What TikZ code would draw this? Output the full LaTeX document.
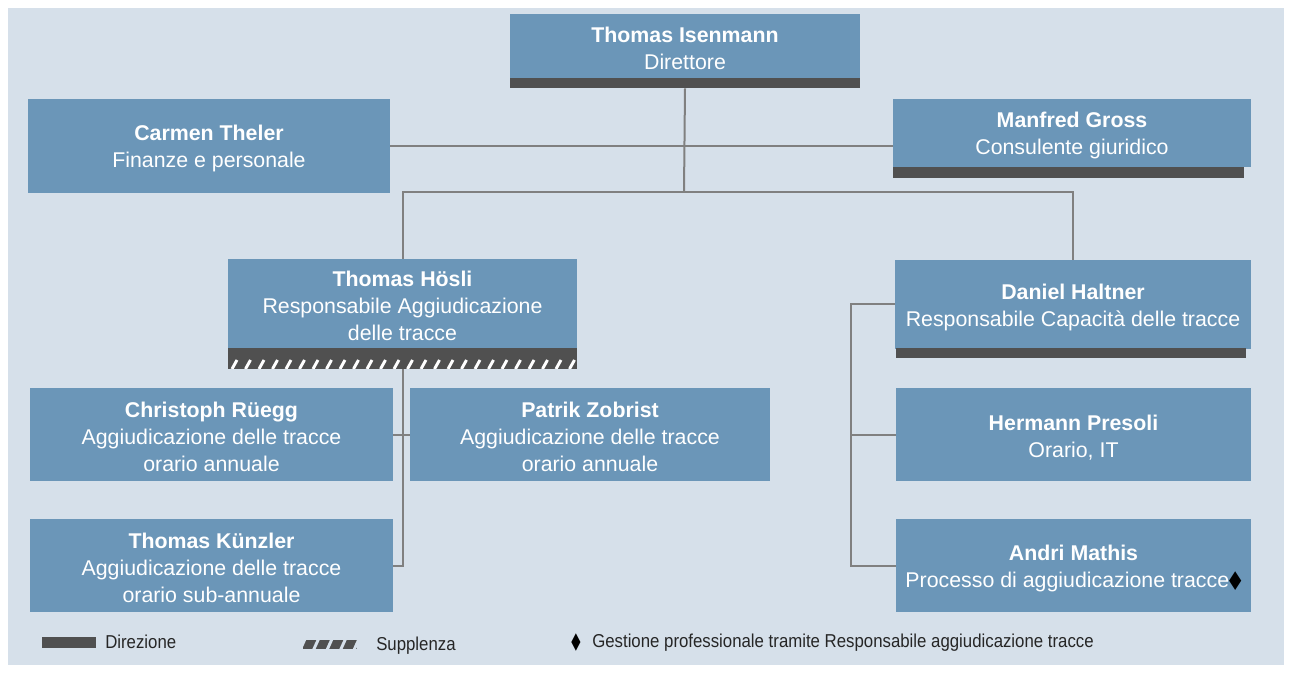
\documentclass[tikz,border=0pt]{standalone}
\usepackage{fontspec}
\setmainfont{Liberation Sans}
\newfontfamily\legfont[FakeStretch=0.9]{Liberation Sans}
\newfontfamily\symfont{DejaVu Sans}
\usetikzlibrary{fit}
\definecolor{bgpanel}{HTML}{D6E0EA}
\definecolor{boxblue}{HTML}{6B96B8}
\definecolor{bardark}{HTML}{505050}
\definecolor{linegray}{HTML}{808080}
\definecolor{legtext}{HTML}{262626}
\tikzset{
  box/.style={fill=boxblue, inner sep=0pt},
  boxtext/.style={text=white, inner sep=0pt, align=center, yshift=-2pt,
    font=\fontsize{16}{20.25}\selectfont},
  bar/.style={fill=bardark, inner sep=0pt},
  conn/.style={draw=linegray, line width=1.5pt},
  slash/.style={draw=white, line width=2.2pt},
  legend/.style={font=\legfont\fontsize{14}{16}\selectfont, text=legtext, anchor=west, inner sep=0pt},
}
\begin{document}
\begin{tikzpicture}[x=0.75pt,y=-0.75pt]
\useasboundingbox (0,0) rectangle (1292,673);
\fill[white] (0,0) rectangle (1292,673);
\fill[bgpanel] (8,8) rectangle (1284,665);

% boxes
\node[box, fit={(510,14)(860,78)}] (isen) {};
\node[boxtext] (isent) at (isen.center) {\textbf{Thomas Isenmann}\\Direttore};
\node[bar, fit={(510,78)(860,88)}] (isenbar) {};

\node[box, fit={(28,99)(390,193)}] (carmen) {};
\node[boxtext] (carment) at (carmen.center) {\textbf{Carmen Theler}\\Finanze e personale};

\node[box, fit={(893,99)(1251,167)}] (manfred) {};
\node[boxtext] (manfredt) at (manfred.center) {\textbf{Manfred Gross}\\Consulente giuridico};
\node[bar, fit={(893,167)(1244,178)}] (manfredbar) {};

\node[box, fit={(228,259)(577,348)}] (hosli) {};
\node[boxtext] (hoslit) at (hosli.center) {\textbf{Thomas Hösli}\\Responsabile Aggiudicazione\\delle tracce};
\node[bar, fit={(228,348)(577,369)}] (hoslibar) {};
\begin{scope}
  \clip (228,359) rectangle (577,369);
  \foreach \x in {232,245.5,...,577} \draw[slash] (\x,369) -- (\x+5,360);
\end{scope}

\node[box, fit={(895,260)(1251,349)}] (haltner) {};
\node[boxtext] (haltnert) at (haltner.center) {\textbf{Daniel Haltner}\\Responsabile Capacità delle tracce};
\node[bar, fit={(896,348)(1246,358)}] (haltnerbar) {};

\node[box, fit={(30,388)(393,481)}] (ruegg) {};
\node[boxtext] (rueggt) at (ruegg.center) {\textbf{Christoph Rüegg}\\Aggiudicazione delle tracce\\orario annuale};
\node[box, fit={(410,388)(770,481)}] (zobrist) {};
\node[boxtext] (zobristt) at (zobrist.center) {\textbf{Patrik Zobrist}\\Aggiudicazione delle tracce\\orario annuale};
\node[box, fit={(30,519)(393,612)}] (kunzler) {};
\node[boxtext] (kunzlert) at (kunzler.center) {\textbf{Thomas Künzler}\\Aggiudicazione delle tracce\\orario sub-annuale};

\node[box, fit={(896,388)(1251,481)}] (presoli) {};
\node[boxtext] (presolit) at (presoli.center) {\textbf{Hermann Presoli}\\Orario, IT};
\node[box, fit={(896,519)(1251,612)}] (mathis) {};
\node[boxtext] (mathist) at (mathis.center) {\textbf{Andri Mathis}\\Processo di aggiudicazione tracce{\symfont\color{black}\scalebox{0.75}[1.15]{◆}}};

% connectors
\coordinate (jt) at (684,192);
\draw[conn] (isenbar.south) -- (jt);
\draw[conn] (carmen.east) -- (manfred.west |- carmen.east);
\draw[conn] (hosli.north) |- (jt) -| (haltner.north);
\draw[conn] (hoslibar.south) |- (kunzler.east);
\draw[conn] (ruegg.east) -- (zobrist.west);
\draw[conn] (haltner.west) -- ++(-44,0) coordinate (rt) |- (mathis.west);
\draw[conn] (presoli.west) -- (presoli.west -| rt);

% legend
\node[bar, fit={(42,637)(96,648)}] (legdir) {};
\node[legend] (legdirtext) at (105,642) {Direzione};

\node[bar, fit={(303,640)(357,649)}] (legsup) {};
\begin{scope}
  \clip (303,640) rectangle (357,649);
  \foreach \x in {300,313.5,...,358} \draw[draw=bgpanel, line width=2.2pt] (\x,650) -- (\x+5,639);
\end{scope}
\node[legend] (legsuptext) at (376,646) {Supplenza};

\node[inner sep=0pt, text=black] (legdia) at (576,643) {\symfont\fontsize{15}{17}\selectfont\scalebox{0.6}[1.15]{◆}};
\node[legend] (legdiatext) at (592,643) {Gestione professionale tramite Responsabile aggiudicazione tracce};
\end{tikzpicture}
\end{document}
